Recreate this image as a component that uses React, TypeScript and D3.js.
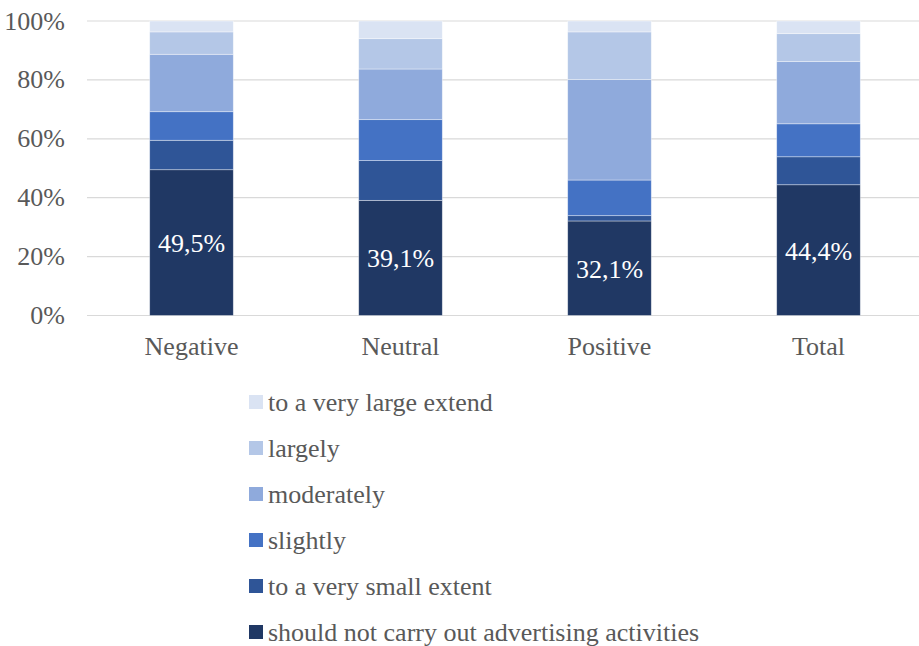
import React from "react";
import * as d3 from "d3";

const categories = ["Negative", "Neutral", "Positive", "Total"];
const seriesNames = [
  "should not carry out advertising activities",
  "to a very small extent",
  "slightly",
  "moderately",
  "largely",
  "to a very large extend",
];
const notCarryOut = [49.5, 39.1, 32.1, 44.4];
const verySmall = [10.0, 13.5, 1.8, 9.5];
const slightly = [9.7, 13.9, 12.1, 11.2];
const moderately = [19.5, 17.2, 34.1, 21.1];
const largely = [7.6, 10.3, 16.2, 9.5];
const veryLarge = [3.7, 6.0, 3.7, 4.3];
const yTicks = [0, 20, 40, 60, 80, 100];
const dataLabels = ["49,5%", "39,1%", "32,1%", "44,4%"];

const seriesValues = [notCarryOut, verySmall, slightly, moderately, largely, veryLarge];
const colors = ["#203864", "#2F5597", "#4472C4", "#8FAADC", "#B4C7E7", "#DAE3F3"];

const W = 919;
const H = 646;
const FONT = "Liberation Serif";
const TXT = "#595959";

export default function App() {
  const x = d3
    .scaleBand<string>()
    .domain(categories)
    .range([87, 923])
    .paddingInner(0.6)
    .paddingOuter(0.3);
  const y = d3.scaleLinear().domain([0, 100]).range([315.5, 21]);

  const table = categories.map((c, i) => {
    const row: any = { cat: c };
    seriesNames.forEach((s, j) => (row[s] = seriesValues[j][i]));
    return row;
  });
  const stack = d3.stack<any>().keys(seriesNames)(table);

  const legendOrder = [...seriesNames].map((s, i) => ({ s, i })).reverse();

  const T = (props: any) => (
    <text {...props} fontFamily={FONT} fontSize={26} style={{ fontFamily: FONT, fontSize: "26px" }} />
  );

  return (
    <svg width={W} height={H} style={{ position: "absolute", left: 0, top: 0, background: "#fff" }}>
      {yTicks.map((t) => (
        <g key={t}>
          <line x1={87} x2={W} y1={y(t)} y2={y(t)} stroke="#D9D9D9" strokeWidth={1.2} />
          <T x={65} y={y(t) + 8.5} textAnchor="end" fill={TXT}>
            {t}%
          </T>
        </g>
      ))}
      {stack.map((layer, j) => (
        <g key={j}>
          {layer.map((d, i) => (
            <rect
              key={i}
              x={x(categories[i])}
              width={x.bandwidth()}
              y={y(d[1])}
              height={y(d[0]) - y(d[1])}
              fill={colors[j]}
              stroke="#ffffff"
              strokeOpacity={0.5}
              strokeWidth={0.75}
            />
          ))}
        </g>
      ))}
      {stack[0].map((d, i) => (
        <T
          key={i}
          x={(x(categories[i]) as number) + x.bandwidth() / 2}
          y={(y(d[0]) + y(d[1])) / 2 + 9.5}
          textAnchor="middle"
          fill="#ffffff"
        >
          {dataLabels[i]}
        </T>
      ))}
      {categories.map((c) => (
        <T key={c} x={(x(c) as number) + x.bandwidth() / 2} y={355} textAnchor="middle" fill={TXT}>
          {c}
        </T>
      ))}
      {legendOrder.map(({ s, i }, k) => {
        const cy = 402 + k * 46;
        return (
          <g key={s}>
            <rect x={249} y={cy - 7} width={14} height={14} fill={colors[i]} />
            <T x={268} y={cy + 9} fill={TXT}>
              {s}
            </T>
          </g>
        );
      })}
    </svg>
  );
}
